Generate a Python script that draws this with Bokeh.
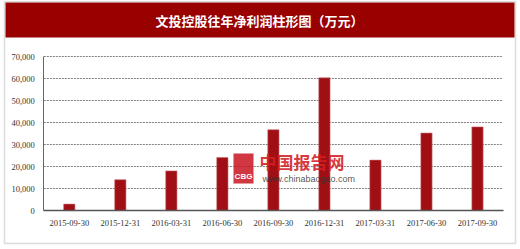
from bokeh.plotting import figure
from bokeh.models import (FixedTicker, NumeralTickFormatter,
                          BoxAnnotation, Label, Range1d)
from bokeh.embed import file_html
from bokeh.resources import INLINE

# ---- data ----
dates = ["2015-09-30", "2015-12-31", "2016-03-31", "2016-06-30", "2016-09-30",
         "2016-12-31", "2017-03-31", "2017-06-30", "2017-09-30"]
profit = [2900, 14000, 18000, 24100, 36700, 60300, 22900, 35200, 38000]
y_ticks = [0, 10000, 20000, 30000, 40000, 50000, 60000, 70000]
title_text = "文投控股往年净利润柱形图（万元）"
wm_cn = "中国报告网"
wm_url = "www.chinabaogao.com"
wm_logo = "CBG"

# ---- layout (pixels) ----
W, H = 520, 249
PL, PR, PT, PB = 43.3, 502.5, 56.0, 210.0      # plot area edges
n = len(dates)
pos = [i + 0.5 for i in range(n)]              # category centres
ux = (PR - PL) / n
uy = (PB - PT) / y_ticks[-1]
x_rng = Range1d(-PL / ux, n + (W - PR) / ux)
y_rng = Range1d(-(H - PB) / uy, y_ticks[-1] + PT / uy)

TICK_FONT = "Liberation Serif"

p = figure(width=W, height=H, x_range=x_rng, y_range=y_rng,
           output_backend="svg", toolbar_location=None,
           min_border=0, min_border_left=0, min_border_right=0,
           min_border_top=0, min_border_bottom=0)
p.outline_line_color = None
p.background_fill_color = "white"
p.border_fill_color = "white"
p.xgrid.visible = False
p.ygrid.visible = False

# dotted horizontal grid, spanning the category area only
gy = y_ticks[1:]
p.segment(x0=[0] * len(gy), x1=[n] * len(gy), y0=gy, y1=gy,
          line_color="#808080", line_dash="2 1", line_width=1)

p.vbar(x=pos, top=profit, width=0.22, fill_color="#A00F14",
       line_color="#C86A6E", line_width=0.6)

# axes fixed at the plot-area edges
p.yaxis.fixed_location = 0
p.yaxis.bounds = (0, y_ticks[-1])
p.yaxis.ticker = FixedTicker(ticks=y_ticks)
p.yaxis.formatter = NumeralTickFormatter(format="0,0")
p.xaxis.fixed_location = 0
p.xaxis.bounds = (0, n)
p.xaxis.ticker = FixedTicker(ticks=pos)
p.xaxis.major_label_overrides = {x: d for x, d in zip(pos, dates)}
for ax in (p.xaxis, p.yaxis):
    ax.major_tick_line_color = None
    ax.minor_tick_line_color = None
    ax.axis_line_color = "#666666"
    ax.major_label_text_font = TICK_FONT
    ax.major_label_text_font_size = "8.5px"
    ax.major_label_text_color = "#333333"
p.xaxis.axis_line_width = 1.5
p.xaxis.axis_line_color = "#555555"
p.yaxis.major_label_standoff = 3
p.xaxis.major_label_standoff = 3

# ---- decorations (canvas coordinates) ----
def cbox(l, r, t, b, **kw):
    return BoxAnnotation(left=l, right=r, top=t, bottom=b,
                         left_units="canvas", right_units="canvas",
                         top_units="canvas", bottom_units="canvas", **kw)

p.add_layout(cbox(5, 514, 2, 37, fill_color="#990000", fill_alpha=1,
                  line_color=None))
p.add_layout(cbox(4, 515, 1, 243, fill_alpha=0, line_color="#8c8c8c",
                  line_width=1.5))
p.add_layout(Label(x=259, y=20, x_units="canvas", y_units="canvas",
                   text=title_text, text_align="center", text_baseline="middle",
                   text_color="white", text_font_size="13px",
                   text_font_style="bold", text_font="Noto Sans CJK SC"))

# watermark
p.add_layout(cbox(233, 253, 153, 183, fill_color="#C8141E", fill_alpha=0.85,
                  line_color="#D9A0A0", line_width=1))
p.add_layout(Label(x=243, y=176, x_units="canvas", y_units="canvas",
                   text=wm_logo, text_align="center", text_baseline="middle",
                   text_color="white", text_font_size="8px",
                   text_font_style="bold", text_font="Liberation Sans"))
p.add_layout(Label(x=259, y=161, x_units="canvas", y_units="canvas",
                   text=wm_cn, text_align="left", text_baseline="middle",
                   text_color="#D41E24", text_alpha=0.9, text_font_size="17px",
                   text_font_style="bold", text_font="Noto Sans CJK SC"))
p.add_layout(Label(x=262, y=178, x_units="canvas", y_units="canvas",
                   text=wm_url, text_align="left", text_baseline="middle",
                   text_color="#333333", text_alpha=0.85, text_font_size="9px",
                   text_font="Liberation Sans"))

open("out.html", "w").write(file_html(p, INLINE))
